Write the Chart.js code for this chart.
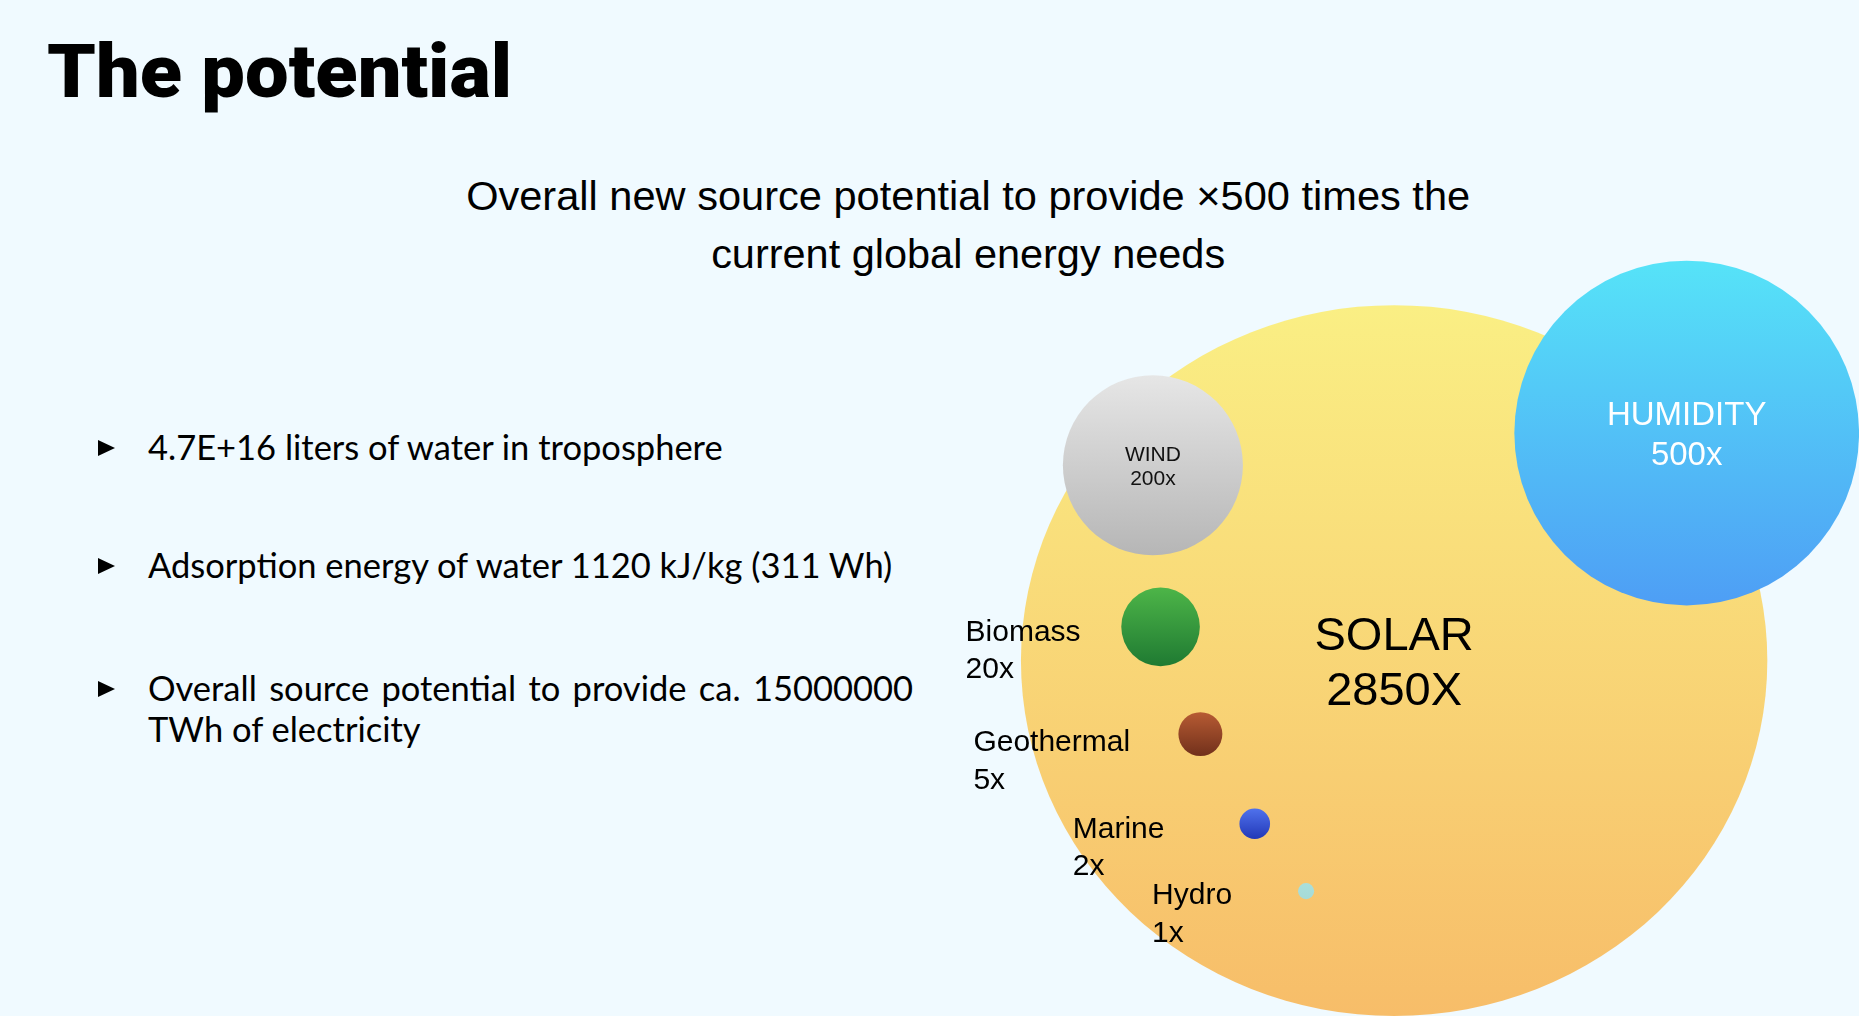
<!DOCTYPE html>
<html>
<head>
<meta charset="utf-8">
<title>The potential</title>
<script src="https://cdn.jsdelivr.net/npm/chart.js@4.4.1/dist/chart.umd.min.js"></script>
<style>
    html, body {
        margin: 0;
        padding: 0;
        width: 1859px;
        height: 1016px;
        overflow: hidden;
        background: #f0faff;
        color: #000;
    }
    #title {
        position: absolute;
        left: 47px;
        top: 35px;
        font: 900 74px/74px Roboto, "Open Sans", sans-serif;
        white-space: nowrap;
        transform-origin: left center;
    }
    #subtitle {
        position: absolute;
        left: 168px;
        top: 167px;
        width: 1600px;
        text-align: center;
        font: 400 41px/58px "Liberation Sans", Arial, sans-serif;
    }
    #subtitle span {
        display: inline-block;
        white-space: nowrap;
        transform-origin: center center;
    }
    .bullet {
        position: absolute;
        left: 148px;
        font: 400 34.5px/41px Lato, "Open Sans", sans-serif;
        white-space: nowrap;
    }
    .bullet::before {
        content: "";
        position: absolute;
        left: -50px;
        top: 14px;
        width: 0;
        height: 0;
        border-left: 17px solid #000;
        border-top: 8.5px solid transparent;
        border-bottom: 8.5px solid transparent;
    }
    .justified {
        width: 765px;
        text-align: justify;
        text-align-last: justify;
    }
    #chartBox {
        position: absolute;
        left: 940px;
        top: 250px;
        width: 919px;
        height: 766px;
    }
</style>
</head>
<body>
<div id="title">The potential</div>
<div id="subtitle">
    <span id="sub1">Overall new source potential to provide ×500 times the</span><br>
    <span id="sub2">current global energy needs</span>
</div>
<div class="bullet" style="top: 426px">4.7E+16 liters of water in troposphere</div>
<div class="bullet" style="top: 544px">Adsorption energy of water 1120 kJ/kg (311 Wh)</div>
<div class="bullet" style="top: 667px">
    <div class="justified">Overall source potential to provide ca. 15000000</div>
    <div>TWh of electricity</div>
</div>
<div id="chartBox"><canvas id="potentialChart"></canvas></div>

<script>
// energy sources and how many times the current global need each could cover
const sources = ["SOLAR", "HUMIDITY", "WIND", "Biomass", "Geothermal", "Marine", "Hydro"];
const multiples = [2850, 500, 200, 20, 5, 2, 1];
const multipleSuffix = ["X", "x", "x", "x", "x", "x", "x"];

// bubble centres and radii, in plot units (x 0..12, y 0..10, same length per unit)
const bubbleX = [5.93, 9.75, 2.78, 2.88, 3.40, 4.11, 4.78];
const bubbleY = [4.64, 7.61, 7.19, 5.08, 3.68, 2.51, 1.63];
const bubbleSize = [4.64, 2.25, 1.175, 0.513, 0.287, 0.2, 0.105];

// top / bottom gradient colours
const bubbleColors = [
    ["#faef84", "#f7bd69"],
    ["#56e3f8", "#4e9ef5"],
    ["#e6e6e6", "#b6b6b6"],
    ["#4db548", "#1f7a32"],
    ["#b75b33", "#71301b"],
    ["#5072ec", "#2238b8"],
    ["#a9dfdb", "#a6dbd7"],
];
const solarStretch = 1.05;

const labelStyle = [
    { size: 47, lineHeight: 1.17, color: "#000" },
    { size: 33, lineHeight: 1.2, color: "#fff" },
    { size: 21, lineHeight: 1.15, color: "#111" },
    { size: 30, lineHeight: 1.24, color: "#000", dx: -195, dy: 14 },
    { size: 30, lineHeight: 1.26, color: "#000", dx: -227, dy: 17 },
    { size: 30, lineHeight: 1.24, color: "#000", dx: -182, dy: 14 },
    { size: 30, lineHeight: 1.26, color: "#000", dx: -154, dy: 13 },
];

// plot units -> pixels, through the y scale
const unitsToPx = (chart, units) => {
    const y = chart.scales.y;
    return Math.abs(y.getPixelForValue(0) - y.getPixelForValue(units));
};

const bubbleGradient = (chart, i) => {
    const cy = chart.scales.y.getPixelForValue(bubbleY[i]);
    const r = unitsToPx(chart, bubbleSize[i]);
    const g = chart.ctx.createLinearGradient(0, cy - r, 0, cy + r);
    g.addColorStop(0, bubbleColors[i][0]);
    g.addColorStop(1, bubbleColors[i][1]);
    return g;
};

// the solar bubble is a little wider than tall in the original
const widenSolar = {
    id: "widenSolar",
    beforeDatasetDraw(chart, args) {
        if (args.index !== 0) return;
        const el = args.meta.data[0];
        const ctx = chart.ctx;
        ctx.save();
        ctx.translate(el.x, 0);
        ctx.scale(solarStretch, 1);
        ctx.translate(-el.x, 0);
    },
    afterDatasetDraw(chart, args) {
        if (args.index === 0) chart.ctx.restore();
    },
};

const bubbleLabels = {
    id: "bubbleLabels",
    afterDatasetsDraw(chart) {
        const ctx = chart.ctx;
        sources.forEach((name, i) => {
            const el = chart.getDatasetMeta(i).data[0];
            if (!el) return;
            const st = labelStyle[i];
            const lines = [name, multiples[i] + multipleSuffix[i]];
            const lh = st.size * st.lineHeight;
            ctx.save();
            ctx.font = `${st.size}px "Liberation Sans", Arial, sans-serif`;
            ctx.fillStyle = st.color;
            ctx.textBaseline = "alphabetic";
            if (st.dx !== undefined) {
                ctx.textAlign = "left";
                lines.forEach((t, k) => ctx.fillText(t, el.x + st.dx, el.y + st.dy + k * lh));
            } else {
                ctx.textAlign = "center";
                const first = el.y - lh / 2 + (st.size * 0.716) / 2;
                lines.forEach((t, k) => ctx.fillText(t, el.x, first + k * lh));
            }
            ctx.restore();
        });
    },
};

const datasets = sources.map((name, i) => ({
    label: name,
    data: [{ x: bubbleX[i], y: bubbleY[i], r: 1 }],
    order: sources.length - i,
    clip: false,
    borderWidth: 0,
    backgroundColor: bubbleColors[i][0],
}));

const chart = new Chart(document.getElementById("potentialChart"), {
    type: "bubble",
    data: { datasets },
    options: {
        responsive: true,
        maintainAspectRatio: false,
        animation: false,
        events: [],
        layout: { padding: 0, autoPadding: false },
        plugins: {
            legend: { display: false },
            tooltip: { enabled: false },
        },
        scales: {
            x: { type: "linear", min: 0, max: 12, display: false },
            y: { type: "linear", min: 0, max: 10, display: false },
        },
    },
    plugins: [widenSolar, bubbleLabels],
});

// once the scales are laid out, turn plot-unit sizes into bubble radii and gradients
chart.data.datasets.forEach((ds, i) => {
    ds.data[0].r = unitsToPx(chart, bubbleSize[i]);
    ds.backgroundColor = bubbleGradient(chart, i);
});
chart.update("none");

// squeeze headline text to the widths of the original
const fitWidth = (id, target) => {
    const el = document.getElementById(id);
    const w = el.getBoundingClientRect().width;
    if (w > 0) el.style.transform = `scaleX(${target / w})`;
};
fitWidth("title", 465);
fitWidth("sub1", 1004);
fitWidth("sub2", 514);
</script>
</body>
</html>
